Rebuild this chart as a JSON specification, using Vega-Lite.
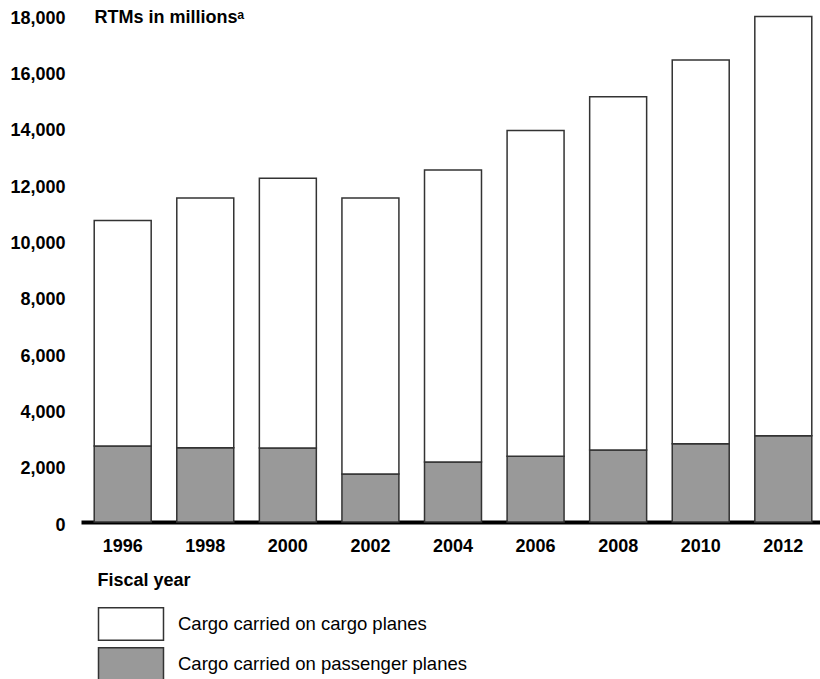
{
  "$schema": "https://vega.github.io/schema/vega-lite/v6.json",
  "width": 744,
  "height": 507,
  "autosize": "none",
  "padding": {"left": 81, "top": 15, "right": 0, "bottom": 157},
  "background": "white",
  "config": {"view": {"stroke": null}, "font": "Liberation Sans"},
  "data": {"values": [
    {"year": "1996", "series": "Cargo carried on passenger planes", "rtm": 2700},
    {"year": "1996", "series": "Cargo carried on cargo planes", "rtm": 8000},
    {"year": "1998", "series": "Cargo carried on passenger planes", "rtm": 2640},
    {"year": "1998", "series": "Cargo carried on cargo planes", "rtm": 8860},
    {"year": "2000", "series": "Cargo carried on passenger planes", "rtm": 2630},
    {"year": "2000", "series": "Cargo carried on cargo planes", "rtm": 9570},
    {"year": "2002", "series": "Cargo carried on passenger planes", "rtm": 1700},
    {"year": "2002", "series": "Cargo carried on cargo planes", "rtm": 9800},
    {"year": "2004", "series": "Cargo carried on passenger planes", "rtm": 2130},
    {"year": "2004", "series": "Cargo carried on cargo planes", "rtm": 10370},
    {"year": "2006", "series": "Cargo carried on passenger planes", "rtm": 2330},
    {"year": "2006", "series": "Cargo carried on cargo planes", "rtm": 11570},
    {"year": "2008", "series": "Cargo carried on passenger planes", "rtm": 2560},
    {"year": "2008", "series": "Cargo carried on cargo planes", "rtm": 12540},
    {"year": "2010", "series": "Cargo carried on passenger planes", "rtm": 2780},
    {"year": "2010", "series": "Cargo carried on cargo planes", "rtm": 13620},
    {"year": "2012", "series": "Cargo carried on passenger planes", "rtm": 3060},
    {"year": "2012", "series": "Cargo carried on cargo planes", "rtm": 14890}
  ]},
  "mark": {"type": "bar", "stroke": "#333333", "strokeWidth": 1.5},
  "encoding": {
    "x": {
      "field": "year", "type": "ordinal",
      "scale": {"paddingInner": 0.31, "paddingOuter": 0.16},
      "axis": {
        "labelAngle": 0, "labelFontSize": 18, "labelFontWeight": "bold", "labelColor": "black",
        "labelPadding": 15, "ticks": false, "domainColor": "black", "domainWidth": 4,
        "title": "Fiscal year", "titleFontSize": 18, "titleFontWeight": "bold", "titleColor": "black",
        "titleAnchor": "start", "titleAlign": "left", "titleBaseline": "middle", "titleX": 16, "titleY": 58
      }
    },
    "y": {
      "field": "rtm", "type": "quantitative", "stack": "zero",
      "scale": {"domain": [0, 18000], "nice": false},
      "axis": {
        "values": [0, 2000, 4000, 6000, 8000, 10000, 12000, 14000, 16000, 18000],
        "format": ",d", "grid": false, "domain": false, "ticks": false,
        "labelFontSize": 18, "labelFontWeight": "bold", "labelColor": "black",
        "labelPadding": 16, "labelOffset": 3,
        "title": "RTMs in millionsᵃ", "titleAngle": 0, "titleAlign": "left", "titleBaseline": "middle",
        "titleX": 13, "titleY": 2, "titleFontSize": 18, "titleFontWeight": "bold", "titleColor": "black"
      }
    },
    "color": {
      "field": "series", "type": "nominal",
      "scale": {"domain": ["Cargo carried on cargo planes", "Cargo carried on passenger planes"], "range": ["#ffffff", "#999999"]},
      "legend": {
        "orient": "none", "legendX": 33, "legendY": 592, "direction": "vertical", "title": null,
        "padding": 0, "symbolType": "M-2,-1H2V1H-2Z", "symbolSize": 1056,
        "symbolStrokeColor": "#333333", "symbolStrokeWidth": 1.5, "symbolOpacity": 1,
        "labelFontSize": 18.5, "labelColor": "black", "labelOffset": 30, "rowPadding": 0, "labelLimit": 500
      }
    },
    "order": {"field": "series", "sort": "descending"}
  }
}
